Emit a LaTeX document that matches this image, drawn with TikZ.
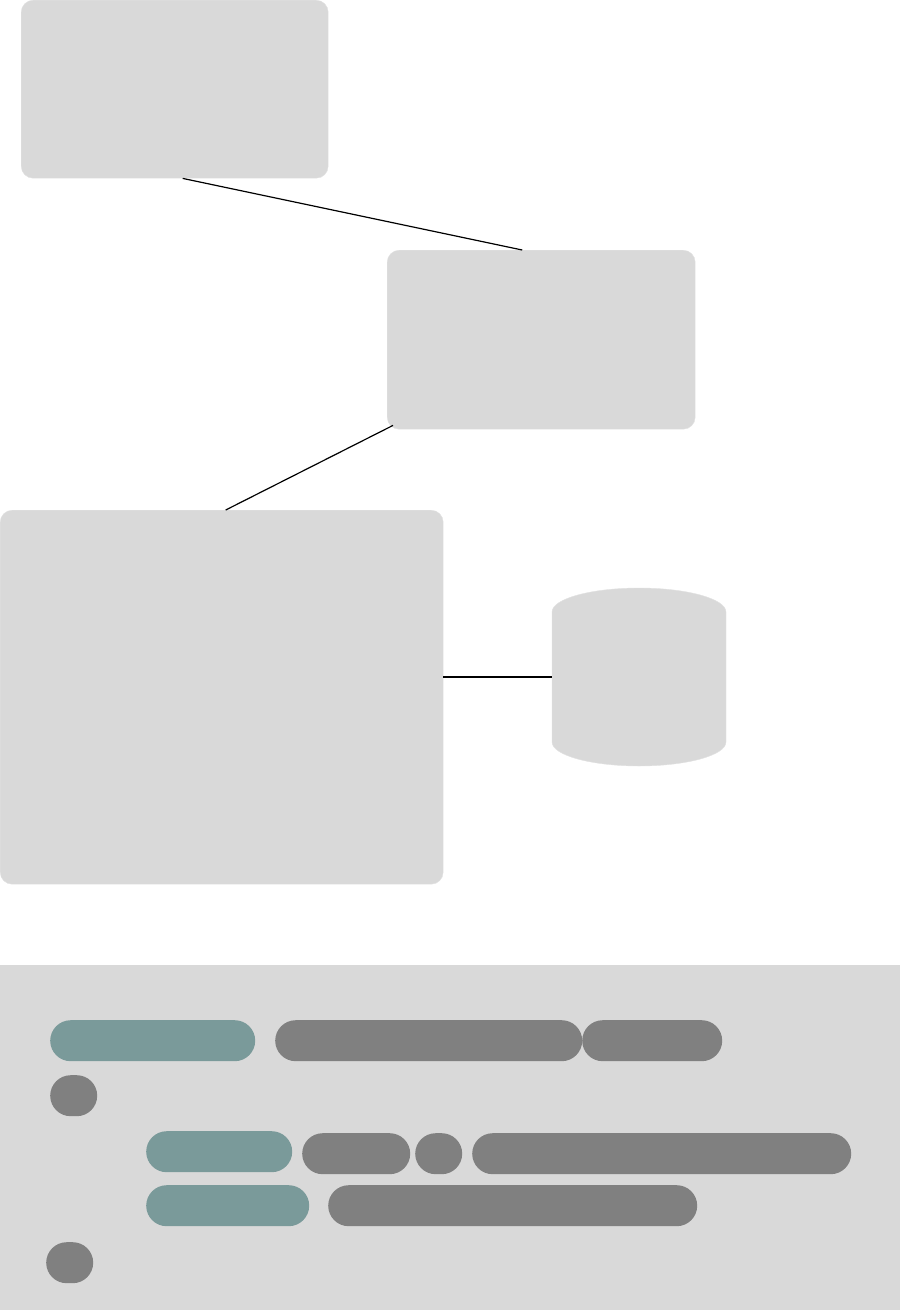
\documentclass[tikz,border=0pt]{standalone}
\definecolor{boxgray}{HTML}{D9D9D9}
\definecolor{boxedge}{HTML}{E2E2E2}
\definecolor{pillgray}{HTML}{808080}
\definecolor{pillteal}{HTML}{7A9A9A}
\tikzset{
  card/.style={draw=boxedge, fill=boxgray, rounded corners=12pt, anchor=north west, inner sep=0pt},
  pill/.style={fill=pillgray, rounded corners=20.5pt, anchor=north west, inner sep=0pt, minimum height=41pt},
  keypill/.style={pill, fill=pillteal},
  link/.style={black, line width=1.2pt}
}
\begin{document}
\begin{tikzpicture}[x=1pt, y=-1pt]
  \useasboundingbox (0,0) rectangle (900,1310);
  \node[card, minimum width=307pt, minimum height=178pt] (client) at (21,0) {};
  \node[card, minimum width=308pt, minimum height=179pt] (server) at (387,250) {};
  \node[card, minimum width=443pt, minimum height=374pt] (service) at (0,510) {};
  % database drum
  \node[inner sep=0pt, minimum width=174pt, minimum height=178pt] (store) at (639,677) {};
  \draw[draw=boxedge, fill=boxgray] (552,612) -- (552,742)
    arc[start angle=180, end angle=0, x radius=87, y radius=24] -- (726,612)
    arc[start angle=0, end angle=-180, x radius=87, y radius=24] -- cycle;
  \draw[link] ([xshift=8pt]client.south) -- ([xshift=-19pt]server.north);
  \draw[link] ([xshift=6pt, yshift=4pt]server.south west) -- ([xshift=4pt]service.north);
  \draw[link] (service.east |- store.west) -- (store.west);
  % code panel
  \fill[boxgray] (0,965) rectangle (900,1310);
  \node[keypill, minimum width=205pt] (k1) at (50,1020) {};
  \node[pill, minimum width=307pt] (v1a) at (275,1020) {};
  \node[pill, minimum width=140pt] (v1b) at (582,1020) {};
  \node[pill, minimum width=47pt] (o1) at (50,1075) {};
  \node[keypill, minimum width=146pt] (k2) at (146,1131) {};
  \node[pill, minimum width=108pt] (v2a) at (302,1133) {};
  \node[pill, minimum width=47pt] (v2b) at (415,1133) {};
  \node[pill, minimum width=379pt] (v2c) at (472,1133) {};
  \node[keypill, minimum width=163pt] (k3) at (146,1185) {};
  \node[pill, minimum width=369pt] (v3) at (328,1185) {};
  \node[pill, minimum width=47pt] (c1) at (46,1242) {};
\end{tikzpicture}
\end{document}
